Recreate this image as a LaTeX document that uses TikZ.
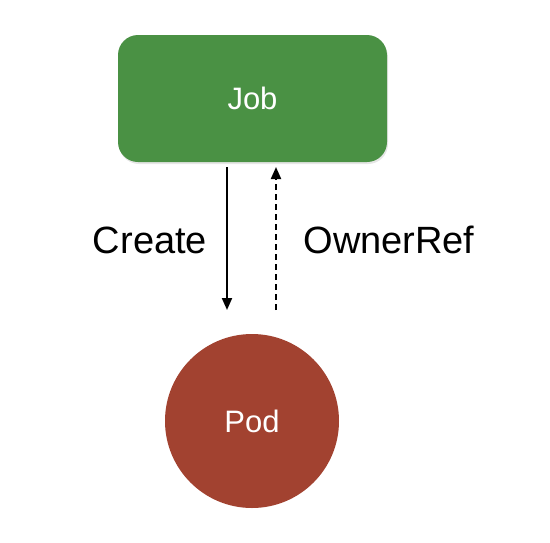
\documentclass[tikz,border=0pt]{standalone}
\usepackage{fontspec}
\setmainfont{Liberation Sans}
\usetikzlibrary{arrows.meta,shadows}
\definecolor{jobgreen}{RGB}{74,145,68}
\definecolor{podred}{RGB}{162,66,48}
\tikzset{
  jobbox/.style={fill=jobgreen, rounded corners=20pt, minimum width=269pt, minimum height=127pt,
    text=white, font=\fontsize{31}{35}\selectfont, inner sep=0pt,
    drop shadow={shadow xshift=1pt, shadow yshift=-2pt, opacity=0.2}},
  podcircle/.style={circle, fill=podred, minimum size=174pt, text=white,
    font=\fontsize{31}{35}\selectfont, inner sep=0pt},
  lbl/.style={font=\fontsize{38}{44}\selectfont, inner sep=0pt},
  conn/.style={line width=2pt, -{Triangle[length=12pt,width=10pt]}},
  dashconn/.style={conn, dash pattern=on 6pt off 4pt}
}
\begin{document}
\begin{tikzpicture}[x=1pt,y=-1pt]
\useasboundingbox (0,0) rectangle (550,542);
\node[jobbox] (job) at (252.5,98.5) {Job};
\node[podcircle] (pod) at (252,421) {Pod};
\coordinate (cs) at (227,167);
\coordinate (ce) at (227,310);
\coordinate (os) at (276,310);
\coordinate (oe) at (276,167);
\draw[conn] (cs) -- (ce);
\draw[dashconn] (os) -- (oe);
\node[lbl, anchor=base] (create) at (150,253) {Create};
\node[lbl, anchor=base] (owner) at (389,253) {OwnerRef};
\end{tikzpicture}
\end{document}
